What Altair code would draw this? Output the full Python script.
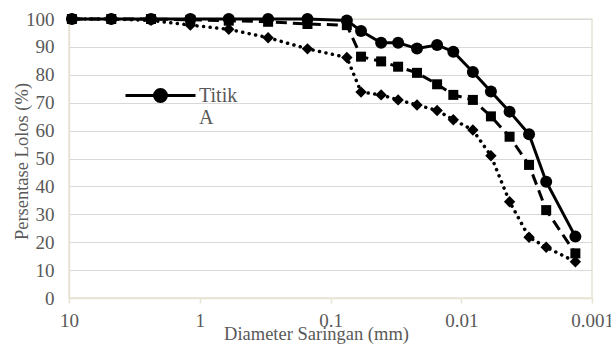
import altair as alt
import pandas as pd

# Sieve / hydrometer diameters (mm), shared by the three samples
diameter = [9.5, 4.75, 2.36, 1.18, 0.6, 0.3, 0.15, 0.075, 0.0584, 0.041,
            0.0304, 0.0218, 0.0153, 0.0115, 0.00815, 0.00593, 0.00427,
            0.00303, 0.00224, 0.00134]

# Percent passing for each sample
titik_a = [100, 100, 100, 100, 100, 100, 100, 99.5, 95.7, 91.5,
           91.5, 89.4, 90.7, 88.3, 81.0, 74.0, 66.8, 58.7, 41.7, 22.0]
titik_b = [100, 100, 100, 99.7, 99.4, 99.0, 98.2, 97.8, 86.5, 84.8,
           82.9, 80.7, 76.6, 72.8, 71.0, 65.1, 57.8, 47.7, 31.5, 16.0]
titik_c = [100, 100, 99.5, 97.8, 96.3, 93.3, 89.3, 86.2, 73.8, 72.8,
           71.0, 69.2, 67.2, 63.9, 60.2, 51.0, 34.5, 21.8, 18.2, 13.0]

x_ticks = [10, 1, 0.1, 0.01, 0.001]
y_ticks = list(range(0, 101, 10))

rows = []
for name, vals in [("Titik A", titik_a), ("Titik B", titik_b), ("Titik C", titik_c)]:
    for d, v in zip(diameter, vals):
        rows.append({"seri": name, "diameter": d, "lolos": v})
df = pd.DataFrame(rows)

FONT = "Liberation Serif"
TEXT = "#595959"
FRAME = "#e8e3d3"
GRID = "#d9d9d9"

x_enc = alt.X(
    "diameter:Q",
    scale=alt.Scale(type="log", domain=[0.001, 10], reverse=True, nice=False),
    axis=alt.Axis(
        values=x_ticks, format="~g", title="Diameter Saringan (mm)",
        grid=False, domainColor=FRAME, domainWidth=1.5,
        tickColor=FRAME, tickWidth=1.5, tickSize=5,
        labelFont=FONT, labelFontSize=19, labelColor=TEXT,
        labelBaseline="alphabetic", labelPadding=23, labelFlush=False,
        labelOverlap=False,
        titleFont=FONT, titleFontSize=18.5, titleColor=TEXT,
        titleFontWeight="normal", titleX=247, titleY=41,
        titleBaseline="alphabetic",
    ),
)
y_enc = alt.Y(
    "lolos:Q",
    scale=alt.Scale(domain=[0, 100], nice=False),
    axis=alt.Axis(
        values=y_ticks, title="Persentase Lolos (%)",
        grid=True, gridColor=GRID, gridWidth=1.2,
        domainColor=FRAME, domainWidth=1.5, ticks=False,
        labelFont=FONT, labelFontSize=19, labelColor=TEXT,
        labelPadding=15, labelBaseline="middle",
        titleFont=FONT, titleFontSize=18.5, titleColor=TEXT,
        titleFontWeight="normal", titleAngle=270, titleX=-42, titleY=142,
        titleBaseline="alphabetic", titleAlign="center",
    ),
)

base = alt.Chart(df)

line_a = base.transform_filter(alt.datum.seri == "Titik A").mark_line(
    color="black", strokeWidth=3).encode(x=x_enc, y=y_enc)
line_b = base.transform_filter(alt.datum.seri == "Titik B").mark_line(
    color="black", strokeWidth=3, strokeDash=[11, 6]).encode(x=x_enc, y=y_enc)
line_c = base.transform_filter(alt.datum.seri == "Titik C").mark_line(
    color="black", strokeWidth=3.5, strokeDash=[0.1, 6.5], strokeCap="round").encode(x=x_enc, y=y_enc)

# Legend symbol: a short line with a dot in the middle
legend_path = ("M-1,0L1,0"
               "M0.17,0A0.17,0.17,0,1,1,-0.17,0A0.17,0.17,0,1,1,0.17,0Z")

pts_a = base.transform_filter(alt.datum.seri == "Titik A").mark_point(
    filled=True, shape="circle", size=144, opacity=1).encode(
    x=x_enc, y=y_enc,
    color=alt.Color(
        "seri:N",
        scale=alt.Scale(domain=["Titik A"], range=["black"]),
        legend=alt.Legend(
            title=None, orient="none", legendX=55, legendY=40,
            symbolType=legend_path, symbolSize=4900,
            symbolStrokeColor="black", symbolStrokeWidth=3,
            symbolFillColor="black",
            labelExpr="['Titik', 'A']",
            labelFont=FONT, labelFontSize=20, labelColor=TEXT,
            labelBaseline="middle", labelOffset=2, padding=0,
        ),
    ),
)
pts_b = base.transform_filter(alt.datum.seri == "Titik B").mark_point(
    filled=True, shape="square", size=100, opacity=1, color="black").encode(x=x_enc, y=y_enc)
pts_c = base.transform_filter(alt.datum.seri == "Titik C").mark_point(
    filled=True, shape="diamond", size=130, opacity=1, color="black").encode(x=x_enc, y=y_enc)

chart = alt.layer(line_c, line_b, line_a, pts_c, pts_b, pts_a).properties(
    width=523, height=279,
    autosize=alt.AutoSizeParams(type="none"),
    padding={"left": 69, "top": 19, "right": 19, "bottom": 47},
    background="white",
).configure_view(stroke=FRAME, strokeWidth=1.5)

chart.save("out.html", embed_options={"renderer": "svg", "actions": False})
